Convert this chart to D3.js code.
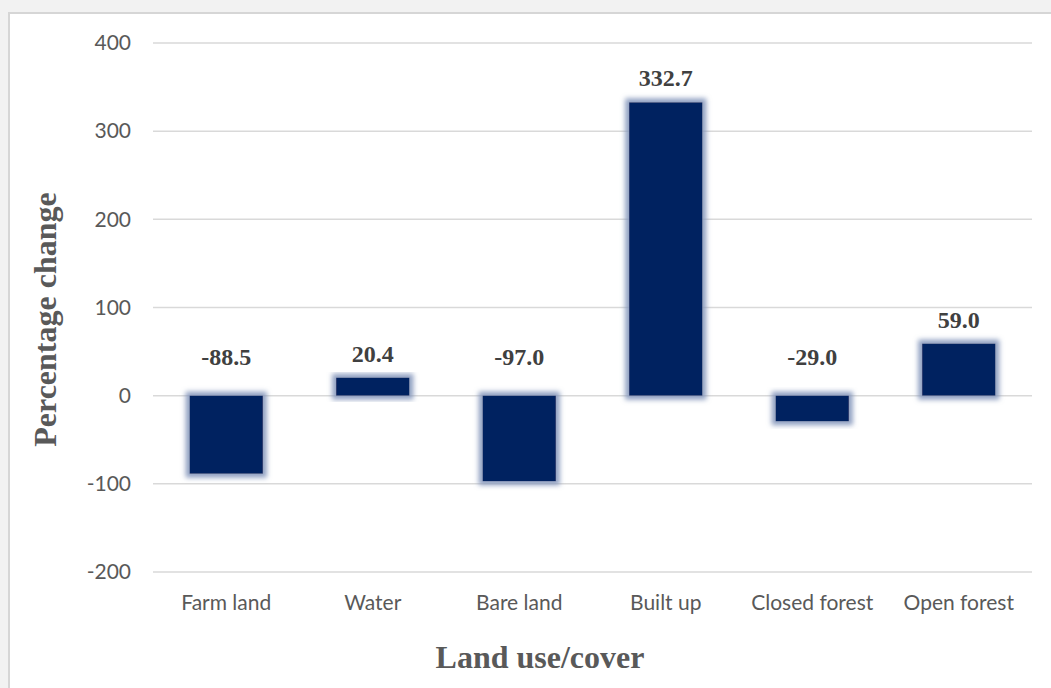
<!DOCTYPE html>
<html>
<head>
<meta charset="utf-8">
<script src="https://cdn.jsdelivr.net/npm/d3@7"></script>
<style>
  html, body { margin: 0; padding: 0; background: #f2f2f2; }
  svg { display: block; }
</style>
</head>
<body>
<svg id="chart" width="1051" height="688"></svg>
<script>
const categories = ["Farm land", "Water", "Bare land", "Built up", "Closed forest", "Open forest"];
const values = [-88.5, 20.4, -97.0, 332.7, -29.0, 59.0];
const valueLabels = ["-88.5", "20.4", "-97.0", "332.7", "-29.0", "59.0"];
const yTicks = [-200, -100, 0, 100, 200, 300, 400];
const yTitle = "Percentage change";
const xTitle = "Land use/cover";

const svg = d3.select("#chart");
const W = 1051, H = 688;

// outer frame
svg.append("rect").attr("x", 0).attr("y", 0).attr("width", W).attr("height", H).attr("fill", "#f2f2f2");
svg.append("rect").attr("x", 9).attr("y", 13).attr("width", W + 20).attr("height", H + 20)
  .attr("fill", "#ffffff").attr("stroke", "#d6d6d6").attr("stroke-width", 2);

// glow filter
const defs = svg.append("defs");
const f = defs.append("filter").attr("id", "glow").attr("x", "-30%").attr("y", "-30%").attr("width", "160%").attr("height", "160%");
f.append("feMorphology").attr("in", "SourceAlpha").attr("operator", "dilate").attr("radius", 4).attr("result", "d");
f.append("feGaussianBlur").attr("in", "d").attr("stdDeviation", 2.5).attr("result", "b");
f.append("feFlood").attr("flood-color", "#8496bb").attr("flood-opacity", 0.9).attr("result", "c");
f.append("feComposite").attr("in", "c").attr("in2", "b").attr("operator", "in").attr("result", "g");
const m = f.append("feMerge");
m.append("feMergeNode").attr("in", "g");
m.append("feMergeNode").attr("in", "SourceGraphic");

const x = d3.scaleBand().domain(categories).range([153, 1032]).paddingInner(0.5).paddingOuter(0.25);
const y = d3.scaleLinear().domain([-200, 400]).range([572, 43]);

// gridlines
svg.append("g").selectAll("line").data(yTicks).join("line")
  .attr("x1", 153).attr("x2", 1032)
  .attr("y1", d => y(d)).attr("y2", d => y(d))
  .attr("stroke", "#d9d9d9").attr("stroke-width", 1.5);

// y axis labels
const yAxis = d3.axisLeft(y).tickValues(yTicks).tickFormat(d => String(d)).tickSize(0).tickPadding(0);
const gy = svg.append("g").attr("transform", "translate(131,0)").call(yAxis);
gy.select(".domain").remove();
gy.selectAll("text").attr("font-family", "Lato, 'Open Sans', sans-serif").attr("font-size", 21)
  .attr("fill", "#595959");

// bars
svg.append("g").selectAll("rect").data(values).join("rect")
  .attr("x", (d, i) => x(categories[i]))
  .attr("width", x.bandwidth())
  .attr("y", d => y(Math.max(0, d)))
  .attr("height", d => Math.abs(y(d) - y(0)))
  .attr("fill", "#002060")
  .attr("filter", "url(#glow)");

// value labels
svg.append("g").selectAll("text").data(values).join("text")
  .attr("x", (d, i) => x(categories[i]) + x.bandwidth() / 2)
  .attr("y", d => d >= 0 ? y(d) - 16 : y(0) - 31)
  .attr("text-anchor", "middle")
  .attr("font-family", "'Liberation Serif', 'Times New Roman', serif")
  .attr("font-weight", "bold").attr("font-size", 24)
  .attr("fill", "#404040")
  .text((d, i) => valueLabels[i]);

// x axis labels
const xAxis = d3.axisBottom(x).tickSize(0).tickPadding(0);
const gx = svg.append("g").attr("transform", "translate(0,595)").call(xAxis);
gx.select(".domain").remove();
gx.selectAll("text").attr("font-family", "Lato, 'Open Sans', sans-serif").attr("font-size", 21)
  .attr("fill", "#595959");

// axis titles
svg.append("text")
  .attr("transform", "translate(56," + ((192 + 447) / 2) + ") rotate(-90)")
  .attr("text-anchor", "middle")
  .attr("font-family", "'Liberation Serif', 'Times New Roman', serif")
  .attr("font-weight", "bold").attr("font-size", 32)
  .attr("fill", "#595959")
  .text(yTitle);

svg.append("text")
  .attr("x", (437 + 643) / 2).attr("y", 668)
  .attr("text-anchor", "middle")
  .attr("font-family", "'Liberation Serif', 'Times New Roman', serif")
  .attr("font-weight", "bold").attr("font-size", 32)
  .attr("fill", "#595959")
  .text(xTitle);
</script>
</body>
</html>
